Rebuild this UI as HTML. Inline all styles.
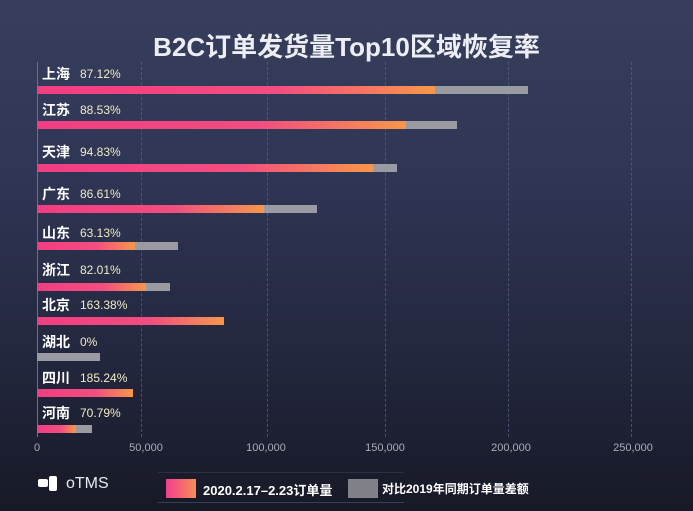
<!DOCTYPE html>
<html><head><meta charset="utf-8"><style>
*{margin:0;padding:0;box-sizing:border-box}
body{width:693px;height:511px;overflow:hidden;background:linear-gradient(180deg,#373f5d 0%,#2f3554 35%,#23273e 70%,#171926 100%);font-family:"Liberation Sans","Noto Sans CJK SC",sans-serif;position:relative}
.a{position:absolute}
.title{left:0;width:693px;top:27px;text-align:center;color:#eceef4;font-size:26px;font-weight:bold}
.grid{top:62px;height:375px;width:0;border-left:1px dashed rgba(90,100,135,0.7)}
.lbl{color:#fff;font-size:14px;font-weight:bold;left:42px;line-height:16px}
.pct{color:#f1ebc4;font-size:12px;left:80px;line-height:16px}
.bar{height:8px;left:37px}
.p{background:linear-gradient(90deg,#f23d82 0%,#f24d80 60%,#f7974a 100%)}
.g{background:#9a9aa3}
.tick{color:#a9acb9;font-size:11px;top:442px;transform:translateX(-50%)}
</style></head><body>
<div class="a title">B2C订单发货量Top10区域恢复率</div>
<div class="a" style="left:37px;top:62px;width:1px;height:375px;background:#6b6f8a"></div>
<div class="a grid" style="left:141px"></div>
<div class="a grid" style="left:267px"></div>
<div class="a grid" style="left:385px"></div>
<div class="a grid" style="left:508px"></div>
<div class="a grid" style="left:631px"></div>

<div class="a lbl" style="top:66px">上海</div><div class="a pct" style="top:66px">87.12%</div>
<div class="a bar g" style="top:86px;width:491px"></div><div class="a bar p" style="top:86px;width:398px"></div>

<div class="a lbl" style="top:102px">江苏</div><div class="a pct" style="top:102px">88.53%</div>
<div class="a bar g" style="top:121px;width:420px"></div><div class="a bar p" style="top:121px;width:369px"></div>

<div class="a lbl" style="top:144px">天津</div><div class="a pct" style="top:144px">94.83%</div>
<div class="a bar g" style="top:164px;width:360px"></div><div class="a bar p" style="top:164px;width:336px"></div>

<div class="a lbl" style="top:186px">广东</div><div class="a pct" style="top:186px">86.61%</div>
<div class="a bar g" style="top:205px;width:280px"></div><div class="a bar p" style="top:205px;width:227px"></div>

<div class="a lbl" style="top:225px">山东</div><div class="a pct" style="top:225px">63.13%</div>
<div class="a bar g" style="top:242px;width:141px"></div><div class="a bar p" style="top:242px;width:98px"></div>

<div class="a lbl" style="top:262px">浙江</div><div class="a pct" style="top:262px">82.01%</div>
<div class="a bar g" style="top:283px;width:133px"></div><div class="a bar p" style="top:283px;width:109px"></div>

<div class="a lbl" style="top:297px">北京</div><div class="a pct" style="top:297px">163.38%</div>
<div class="a bar p" style="top:317px;width:187px"></div>

<div class="a lbl" style="top:334px">湖北</div><div class="a pct" style="top:334px">0%</div>
<div class="a bar g" style="top:353px;width:63px"></div>

<div class="a lbl" style="top:370px">四川</div><div class="a pct" style="top:370px">185.24%</div>
<div class="a bar p" style="top:389px;width:96px"></div>

<div class="a lbl" style="top:405px">河南</div><div class="a pct" style="top:405px">70.79%</div>
<div class="a bar g" style="top:425px;width:55px"></div><div class="a bar p" style="top:425px;width:39px"></div>

<div class="a tick" style="left:37px">0</div>
<div class="a tick" style="left:146px">50,000</div>
<div class="a tick" style="left:266px">100,000</div>
<div class="a tick" style="left:385px">150,000</div>
<div class="a tick" style="left:511px">200,000</div>
<div class="a tick" style="left:633px">250,000</div>

<div class="a" style="left:38px;top:479px;width:10px;height:8px;background:#fff;border-radius:2px"></div>
<div class="a" style="left:49px;top:476px;width:8px;height:15px;background:#fff;border-radius:2px"></div>
<div class="a" style="left:66px;top:475px;color:#e6e8f0;font-size:16px">oTMS</div>

<div class="a" style="left:158px;top:472px;width:246px;height:0;border-top:1px solid #2c3045"></div>
<div class="a" style="left:158px;top:502px;width:246px;height:0;border-top:1px solid #3a3f58"></div>
<div class="a" style="left:166px;top:479px;width:30px;height:19px;background:linear-gradient(90deg,#f03f8e,#f58e58)"></div>
<div class="a" style="left:203px;top:480px;color:#fff;font-size:13px;font-weight:bold">2020.2.17–2.23订单量</div>
<div class="a" style="left:348px;top:479px;width:30px;height:19px;background:#808189"></div>
<div class="a" style="left:382px;top:480px;color:#fff;font-size:12px;font-weight:bold">对比2019年同期订单量差额</div>
</body></html>
